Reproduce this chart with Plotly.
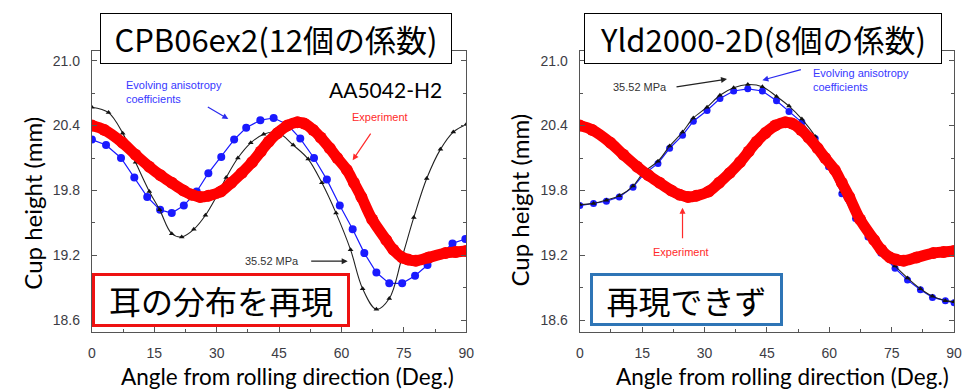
import plotly.graph_objects as go

# ---- data -------------------------------------------------------------
# Experiment (measured cup height), shared by both panels
exp_angle = [0, 3, 7.4, 10.5, 13.8, 16.5, 19.2, 22, 24, 26, 28, 31, 33.5, 36, 38.5,
             40.6, 42.5, 44.6, 47, 49.4, 51, 53.2, 55, 57.2, 59, 61.3, 63, 64.8,
             67.4, 70.8, 72.5, 74.6, 76, 77.9, 81, 85, 87.5, 90]
exp_height = [20.40, 20.36, 20.24, 20.13, 20.02, 19.94, 19.87, 19.80, 19.76, 19.74,
              19.75, 19.79, 19.87, 19.96, 20.06, 20.16, 20.25, 20.33, 20.40, 20.43,
              20.42, 20.36, 20.29, 20.19, 20.10, 19.99, 19.87, 19.74, 19.53, 19.34,
              19.25, 19.18, 19.16, 19.15, 19.18, 19.22, 19.23, 19.24]

# CPB06ex2: 35.52 MPa prediction
cpb_const_angle = [0, 4.0, 7.4, 10.5, 13.8, 16.3, 19.2, 21.6, 24.5, 27.3, 29.9, 32.3,
                   35.1, 38.2, 41.3, 44.5, 48.4, 52.0, 55.3, 58.7, 62.2, 65.1, 68.4,
                   71.5, 74.5, 77.4, 80.5, 83.8, 86.9, 90.0]
cpb_const_height = [20.57, 20.52, 20.33, 20.06, 19.79, 19.62, 19.40, 19.37, 19.44,
                    19.57, 19.74, 19.92, 20.10, 20.24, 20.32, 20.34, 20.22, 20.09,
                    19.87, 19.59, 19.25, 18.89, 18.70, 18.80, 19.17, 19.55, 19.91,
                    20.18, 20.34, 20.41]

# CPB06ex2: evolving anisotropy coefficients
cpb_evol_angle = [0, 3.4, 7.0, 10.2, 13.3, 16.4, 19.2, 22.1, 25.2, 28.0, 31.1, 34.2,
                  37.1, 40.5, 43.7, 47.0, 50.1, 53.4, 56.5, 59.6, 62.7, 65.5, 68.4,
                  71.5, 74.6, 77.7, 80.7, 83.8, 86.7, 89.8]
cpb_evol_height = [20.27, 20.22, 20.10, 19.92, 19.74, 19.62, 19.59, 19.66, 19.79,
                   19.96, 20.11, 20.27, 20.38, 20.45, 20.47, 20.41, 20.28, 20.10,
                   19.90, 19.66, 19.44, 19.22, 19.04, 18.94, 18.94, 19.01, 19.11,
                   19.20, 19.31, 19.35]

# Yld2000-2D predictions
yld_angle = [0, 3.3, 6.4, 9.5, 12.8, 15.4, 18.8, 21.6, 24.7, 27.3, 30.6, 33.7, 37.0,
             40.4, 43.9, 47.3, 50.3, 53.4, 56.6, 59.8, 63.0, 66.3, 69.3, 72.4, 75.8,
             78.8, 81.9, 84.8, 87.9, 90]
yld_const_height = [19.67, 19.68, 19.71, 19.75, 19.84, 19.97, 20.07, 20.21, 20.34,
                    20.47, 20.57, 20.68, 20.75, 20.78, 20.76, 20.67, 20.58, 20.46,
                    20.30, 20.05, 19.79, 19.55, 19.38, 19.23, 19.10, 18.99, 18.89,
                    18.82, 18.78, 18.77]
yld_evol_height = [19.66, 19.68, 19.70, 19.74, 19.83, 19.95, 20.05, 20.19, 20.31,
                   20.44, 20.54, 20.65, 20.72, 20.74, 20.72, 20.63, 20.53, 20.43,
                   20.28, 20.02, 19.77, 19.54, 19.37, 19.22, 19.08, 18.97, 18.88,
                   18.81, 18.78, 18.76]

x_ticks = [0, 15, 30, 45, 60, 75, 90]
y_ticks = [18.6, 19.2, 19.8, 20.4, 21.0]

panel_titles = ["CPB06ex2(12個の係数)", "Yld2000-2D(8個の係数)"]
panel_notes = ["耳の分布を再現", "再現できず"]
y_title = "Cup height (mm)"
x_title = "Angle from rolling direction (Deg.)"

# ---- figure -----------------------------------------------------------
W, H = 970, 392
BLUE = "#1a1aff"
RED = "#ff0000"


def px(x):
    return x / W


def py(y):
    return 1 - y / H


fig = go.Figure()

panels = [
    ("x", "y", cpb_const_angle, cpb_const_height, cpb_evol_angle, cpb_evol_height, 8, 5),
    ("x2", "y2", yld_angle, yld_const_height, yld_angle, yld_evol_height, 7, 5),
]
for xa, ya, ca, ch, ea, eh, bsize, tsize in panels:
    fig.add_trace(go.Scatter(
        x=ea, y=eh, xaxis=xa, yaxis=ya, mode="lines+markers",
        line=dict(color=BLUE, width=1.2),
        marker=dict(symbol="circle", size=bsize, color=BLUE),
        showlegend=False))
    fig.add_trace(go.Scatter(
        x=ca, y=ch, xaxis=xa, yaxis=ya, mode="lines+markers",
        line=dict(color="#222222", width=1.1, shape="spline"),
        marker=dict(symbol="triangle-up", size=tsize, color="#111111"),
        showlegend=False))
    fig.add_trace(go.Scatter(
        x=exp_angle, y=exp_height, xaxis=xa, yaxis=ya, mode="lines+markers",
        line=dict(color=RED, width=11, shape="spline"),
        marker=dict(symbol="circle", size=12, color=RED),
        showlegend=False))

y0, y1 = 332, 51
ydom = [py(y0), py(y1)]
tick_font = dict(family="Liberation Sans, Arial", size=14, color="#3c3c44")
common_x = dict(range=[0, 90], tickvals=x_ticks, ticks="inside", ticklen=5,
                tickcolor="#555555", showline=True, linecolor="#555555", linewidth=1.3,
                mirror="allticks", showgrid=False, zeroline=False,
                minor=dict(dtick=7.5, tick0=0, ticks="inside", ticklen=3, tickcolor="#555555"),
                tickfont=tick_font, ticklabelstandoff=8)
common_y = dict(range=[18.49, 21.09], tickvals=y_ticks, tickformat=".1f", ticks="inside",
                ticklen=5, tickcolor="#555555", showline=True, linecolor="#555555",
                linewidth=1.3, mirror="allticks", showgrid=False, zeroline=False,
                minor=dict(dtick=0.3, tick0=18.6, ticks="inside", ticklen=3, tickcolor="#555555"),
                tickfont=tick_font, ticklabelstandoff=8)

fig.update_layout(
    width=W, height=H, margin=dict(l=0, r=0, t=0, b=0),
    paper_bgcolor="white", plot_bgcolor="white",
    xaxis=dict(domain=[px(89), px(468)], anchor="y", **common_x),
    yaxis=dict(domain=ydom, anchor="x", **common_y),
    xaxis2=dict(domain=[px(583), px(962)], anchor="y2", **common_x),
    yaxis2=dict(domain=ydom, anchor="x2", **common_y),
)

ann = []
small = dict(family="Liberation Sans, Arial", size=11)

# axis titles
for cx in (287, 788):
    ann.append(dict(xref="paper", yref="paper", x=px(cx), y=py(376), text=x_title,
                    showarrow=False, xanchor="center", yanchor="middle",
                    font=dict(family="Lato", size=22.5, color="black")))
for cx, cy in ((28, 203), (521, 200)):
    ann.append(dict(xref="paper", yref="paper", x=px(cx), y=py(cy), text=y_title,
                    showarrow=False, textangle=-90, xanchor="center", yanchor="middle",
                    font=dict(family="Lato", size=24, color="black")))

# title boxes
for (cx, cy, w, h), t in zip(((275, 38.5, 352, 51), (769, 38.5, 358, 51)), panel_titles):
    ann.append(dict(xref="paper", yref="paper", x=px(cx), y=py(cy), text=t,
                    showarrow=False, xanchor="center", yanchor="middle",
                    width=w - 2, height=h - 2, borderpad=0, borderwidth=1,
                    bordercolor="black", bgcolor="white",
                    font=dict(family="Noto Sans CJK JP", size=31, color="black")))

# note boxes
for (cx, cy, w, h, bc), t in zip(((220, 300, 258, 54, "#ee1111"),
                                  (691.5, 299.5, 193, 53, "#2e75b6")), panel_notes):
    ann.append(dict(xref="paper", yref="paper", x=px(cx), y=py(cy), text=t,
                    showarrow=False, xanchor="center", yanchor="middle",
                    width=w - 6, height=h - 6, borderpad=0, borderwidth=3,
                    bordercolor=bc, bgcolor="white",
                    font=dict(family="Noto Sans CJK JP", size=32, color="black")))

# material label
ann.append(dict(xref="paper", yref="paper", x=px(386), y=py(90), text="AA5042-H2",
                showarrow=False, xanchor="center", yanchor="middle",
                font=dict(family="Lato", size=21, color="black")))

# series labels and arrows, left panel
ann.append(dict(xref="paper", yref="paper", x=px(122), y=py(92.5),
                text="Evolving anisotropy<br>coefficients", showarrow=False,
                xanchor="left", yanchor="middle", align="left",
                font=dict(color="#3838ff", **small)))
ann.append(dict(xref="x", yref="y", x=32.8, y=20.46, ax=-22, ay=-13, text="",
                showarrow=True, arrowhead=2, arrowsize=1, arrowwidth=1.2, arrowcolor="#2a2aee"))
ann.append(dict(xref="paper", yref="paper", x=px(381), y=py(117), text="Experiment",
                showarrow=False, xanchor="center", yanchor="middle",
                font=dict(color="#ff2a2a", **small)))
ann.append(dict(xref="x", yref="y", x=62.7, y=20.08, ax=19, ay=-28, text="",
                showarrow=True, arrowhead=2, arrowsize=1, arrowwidth=1.2, arrowcolor="#ff2a2a"))
ann.append(dict(xref="paper", yref="paper", x=px(271), y=py(261), text="35.52 MPa",
                showarrow=False, xanchor="center", yanchor="middle",
                font=dict(color="#333333", **small)))
ann.append(dict(xref="x", yref="y", x=61.5, y=19.145, ax=-38, ay=0, text="",
                showarrow=True, arrowhead=2, arrowsize=1, arrowwidth=1.2, arrowcolor="#222222"))

# series labels and arrows, right panel
ann.append(dict(xref="paper", yref="paper", x=px(644), y=py(87), text="35.52 MPa",
                showarrow=False, xanchor="center", yanchor="middle",
                font=dict(color="#333333", **small)))
ann.append(dict(xref="x2", yref="y2", x=35.4, y=20.83, ax=-52, ay=8, text="",
                showarrow=True, arrowhead=2, arrowsize=1, arrowwidth=1.2, arrowcolor="#222222"))
ann.append(dict(xref="paper", yref="paper", x=px(817), y=py(80),
                text="Evolving anisotropy<br>coefficients", showarrow=False,
                xanchor="left", yanchor="middle", align="left",
                font=dict(color="#3838ff", **small)))
ann.append(dict(xref="x2", yref="y2", x=43.9, y=20.82, ax=40, ay=-11, text="",
                showarrow=True, arrowhead=2, arrowsize=1, arrowwidth=1.2, arrowcolor="#2a2aee"))
ann.append(dict(xref="paper", yref="paper", x=px(685), y=py(252), text="Experiment",
                showarrow=False, xanchor="center", yanchor="middle",
                font=dict(color="#ff2a2a", **small)))
ann.append(dict(xref="x2", yref="y2", x=24.7, y=19.64, ax=0, ay=32, text="",
                showarrow=True, arrowhead=2, arrowsize=1, arrowwidth=1.2, arrowcolor="#ff2a2a"))

fig.update_layout(annotations=ann)
fig.write_html("out.html")
